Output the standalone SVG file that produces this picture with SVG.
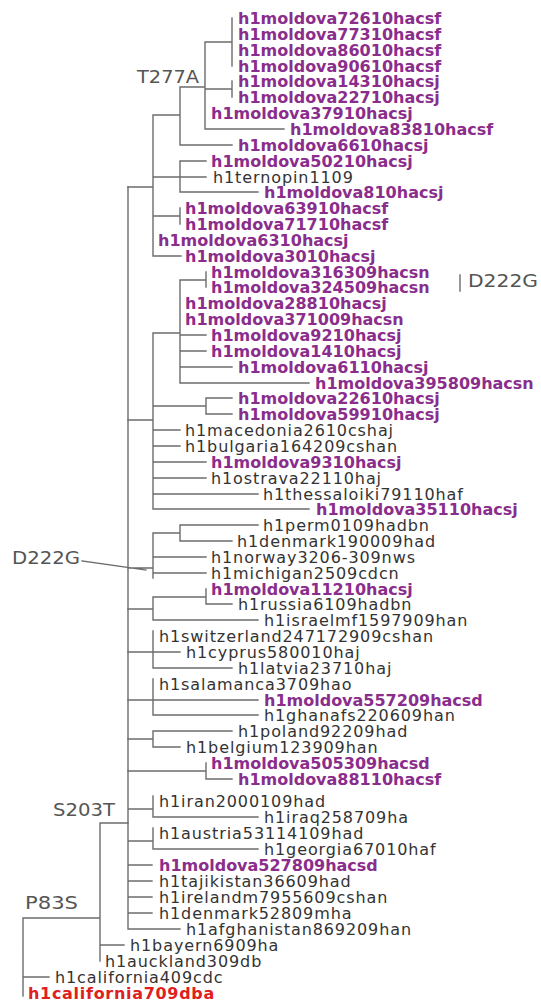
<svg xmlns="http://www.w3.org/2000/svg" width="541" height="1003" viewBox="0 0 541 1003">
<style>
.br{fill:none;stroke:#6c6c6c;stroke-width:1.4;stroke-linecap:square}
text{font-family:"DejaVu Sans","Liberation Sans",sans-serif;font-size:16px}
.m{fill:#8a2d8c;font-weight:bold}
.t{fill:#333333;letter-spacing:0.9px}
.r{fill:#e0201e;font-weight:bold;letter-spacing:0.7px}
.lb{fill:#555555;font-size:17px}
</style>
<rect width="541" height="1003" fill="#ffffff"/>
<g id="connectors" class="br">
<path d="M232 18V66M205 42H232M232 81V97M205 89H232M205 129H284M205 42V129M180 87H205M180 145H232M180 87V145M153 115H180M180 161V192M153 177H206M180 161H206M180 192H258M180 208V224M153 216H180M153 256H181M153 115V256M128 187H153"/>
<path d="M206 272V287M180 280H206M180 335H206M180 351H206M180 367H232M180 383H309M180 280V383M153 333H180M206 398V414M153 406H206M206 398H232M206 414H232M153 430H180M153 446H180M153 462H206M153 478H206M153 494H258M153 509H309M153 333V509M128 420H153"/>
<path d="M180 525V541M153 533H180M180 525H258M180 541H232M153 557H206M153 573H206M153 533V578M128 568H153M82 561L146 570"/>
<path d="M206 589V604M153 597H206M206 604H232M153 620H258M153 597V620M128 609H153"/>
<path d="M153 631V668M128 652H180M153 668H232M153 679V715M128 700H258M153 715H258M153 731V747M128 739H153M153 731H232M153 747H180M206 763V779M128 771H206M206 779H232"/>
<path d="M153 796V817M128 809H153M153 817H258M153 828V849M128 841H153M153 849H258M128 865H152M128 881H152M128 897H152M128 913H152M128 929H180M128 187V929"/>
<path d="M100 823H128M100 823V961M100 945H124M23 918H100M23 918V996M23 977H49M460 275V291"/>
</g>
<g id="labels">
<text id="lbl-t277a" class="lb" x="137" y="83" textLength="62" lengthAdjust="spacingAndGlyphs">T277A</text>
<text id="lbl-d222g-r" class="lb" x="468" y="287" textLength="70" lengthAdjust="spacingAndGlyphs">D222G</text>
<text id="lbl-d222g-l" class="lb" x="12" y="564" textLength="68" lengthAdjust="spacingAndGlyphs">D222G</text>
<text id="lbl-s203t" class="lb" x="53" y="816" textLength="62" lengthAdjust="spacingAndGlyphs">S203T</text>
<text id="lbl-p83s" class="lb" x="25" y="909" textLength="53" lengthAdjust="spacingAndGlyphs">P83S</text>
</g>
<g id="n1"><text class="m" x="238" y="24">h1moldova72610hacsf</text></g>
<g id="n2"><text class="m" x="238" y="40">h1moldova77310hacsf</text></g>
<g id="n3"><text class="m" x="238" y="56">h1moldova86010hacsf</text></g>
<g id="n4"><text class="m" x="238" y="72">h1moldova90610hacsf</text></g>
<g id="n5"><text class="m" x="238" y="87">h1moldova14310hacsj</text></g>
<g id="n6"><text class="m" x="238" y="103">h1moldova22710hacsj</text></g>
<g id="n7"><text class="m" x="211" y="119">h1moldova37910hacsj</text></g>
<g id="n8"><text class="m" x="290" y="135">h1moldova83810hacsf</text></g>
<g id="n9"><text class="m" x="238" y="151">h1moldova6610hacsj</text></g>
<g id="n10"><text class="m" x="211" y="167">h1moldova50210hacsj</text></g>
<g id="n11"><text class="t" x="213" y="183">h1ternopin1109</text></g>
<g id="n12"><text class="m" x="264" y="198">h1moldova810hacsj</text></g>
<g id="n13"><text class="m" x="185" y="214">h1moldova63910hacsf</text></g>
<g id="n14"><text class="m" x="185" y="230">h1moldova71710hacsf</text></g>
<g id="n15"><text class="m" x="158" y="246">h1moldova6310hacsj</text></g>
<g id="n16"><text class="m" x="185" y="262">h1moldova3010hacsj</text></g>
<g id="n17"><text class="m" x="211" y="278">h1moldova316309hacsn</text></g>
<g id="n18"><text class="m" x="211" y="293">h1moldova324509hacsn</text></g>
<g id="n19"><text class="m" x="185" y="309">h1moldova28810hacsj</text></g>
<g id="n20"><text class="m" x="185" y="325">h1moldova371009hacsn</text></g>
<g id="n21"><text class="m" x="211" y="341">h1moldova9210hacsj</text></g>
<g id="n22"><text class="m" x="211" y="357">h1moldova1410hacsj</text></g>
<g id="n23"><text class="m" x="238" y="373">h1moldova6110hacsj</text></g>
<g id="n24"><text class="m" x="315" y="389">h1moldova395809hacsn</text></g>
<g id="n25"><text class="m" x="238" y="404">h1moldova22610hacsj</text></g>
<g id="n26"><text class="m" x="238" y="420">h1moldova59910hacsj</text></g>
<g id="n27"><text class="t" x="185" y="436">h1macedonia2610cshaj</text></g>
<g id="n28"><text class="t" x="185" y="452">h1bulgaria164209cshan</text></g>
<g id="n29"><text class="m" x="211" y="468">h1moldova9310hacsj</text></g>
<g id="n30"><text class="t" x="211" y="484">h1ostrava22110haj</text></g>
<g id="n31"><text class="t" x="263" y="500">h1thessaloiki79110haf</text></g>
<g id="n32"><text class="m" x="316" y="515">h1moldova35110hacsj</text></g>
<g id="n33"><text class="t" x="263" y="531">h1perm0109hadbn</text></g>
<g id="n34"><text class="t" x="237" y="547">h1denmark190009had</text></g>
<g id="n35"><text class="t" x="211" y="563">h1norway3206-309nws</text></g>
<g id="n36"><text class="t" x="211" y="579">h1michigan2509cdcn</text></g>
<g id="n37"><text class="m" x="211" y="595">h1moldova11210hacsj</text></g>
<g id="n38"><text class="t" x="238" y="610">h1russia6109hadbn</text></g>
<g id="n39"><text class="t" x="264" y="626">h1israelmf1597909han</text></g>
<g id="n40"><text class="t" x="159" y="642">h1switzerland247172909cshan</text></g>
<g id="n41"><text class="t" x="186" y="658">h1cyprus580010haj</text></g>
<g id="n42"><text class="t" x="238" y="674">h1latvia23710haj</text></g>
<g id="n43"><text class="t" x="159" y="690">h1salamanca3709hao</text></g>
<g id="n44"><text class="m" x="264" y="706">h1moldova557209hacsd</text></g>
<g id="n45"><text class="t" x="264" y="721">h1ghanafs220609han</text></g>
<g id="n46"><text class="t" x="238" y="737">h1poland92209had</text></g>
<g id="n47"><text class="t" x="186" y="753">h1belgium123909han</text></g>
<g id="n48"><text class="m" x="211" y="769">h1moldova505309hacsd</text></g>
<g id="n49"><text class="m" x="238" y="785">h1moldova88110hacsf</text></g>
<g id="n50"><text class="t" x="159" y="807">h1iran2000109had</text></g>
<g id="n51"><text class="t" x="264" y="823">h1iraq258709ha</text></g>
<g id="n52"><text class="t" x="159" y="839">h1austria53114109had</text></g>
<g id="n53"><text class="t" x="264" y="855">h1georgia67010haf</text></g>
<g id="n54"><text class="m" x="159" y="871">h1moldova527809hacsd</text></g>
<g id="n55"><text class="t" x="159" y="887">h1tajikistan36609had</text></g>
<g id="n56"><text class="t" x="159" y="903">h1irelandm7955609cshan</text></g>
<g id="n57"><text class="t" x="159" y="919">h1denmark52809mha</text></g>
<g id="n58"><text class="t" x="186" y="935">h1afghanistan869209han</text></g>
<g id="n59"><text class="t" x="130" y="951">h1bayern6909ha</text></g>
<g id="n60"><text class="t" x="105" y="967">h1auckland309db</text></g>
<g id="n61"><text class="t" x="55" y="983">h1california409cdc</text></g>
<g id="n62"><text class="r" x="28" y="999">h1california709dba</text></g>
</svg>
